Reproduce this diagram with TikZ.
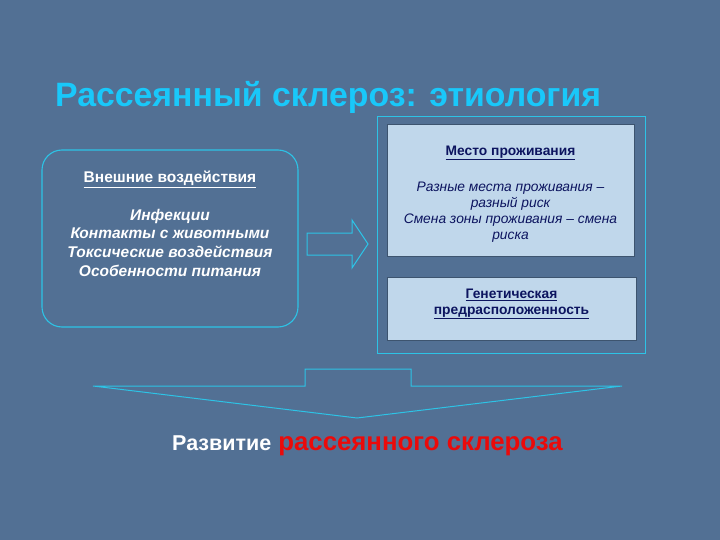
\documentclass[tikz,border=0pt]{standalone}
\usepackage{fontspec}
\setmainfont{Liberation Sans}
\usetikzlibrary{positioning}
\definecolor{SlideBlue}{RGB}{82,112,148}
\definecolor{TitleCyan}{RGB}{25,200,250}
\definecolor{EdgeCyan}{RGB}{45,195,230}
\definecolor{PaleBox}{RGB}{192,215,235}
\definecolor{InkNavy}{RGB}{12,20,95}
\definecolor{RiskRed}{RGB}{235,10,10}
\tikzset{
	factbox/.style={
		draw=EdgeCyan,line width=1.1pt,rounded corners=20pt,
		minimum width=256pt,minimum height=177pt},
	infobox/.style={
		fill=PaleBox,draw=SlideBlue!75!black,line width=1pt,
		align=center,text=InkNavy,inner sep=0pt},
	factlist/.style={
		align=center,text=white,
		font=\bfseries\itshape\fontsize{15.5}{18.7}\selectfont}
}
\def\hdr#1{\underline{\textbf{\upshape #1}}}
\def\riskf#1{\textcolor{RiskRed}{#1}}

\begin{document}
\begin{tikzpicture}[x=1pt,y=-1pt]
			\fill[SlideBlue] (0,0) rectangle (720,540);
			\useasboundingbox (0,0) rectangle (720,540);
			\node[anchor=base west,inner sep=0pt,text=TitleCyan,font=\bfseries\fontsize{33.8}{40}\selectfont] (title) at (55,107) {Рассеянный склероз: этиология};
			% left: external factors
			\node[factbox] (ext) at (170,238.5) {};
			\node[factlist,below=18pt of ext.north] (extlist) {{\fontsize{15.5}{18}\selectfont\hdr{Внешние воздействия}}\\[19pt]
				Инфекции\\ Контакты с животными\\ Токсические воздействия\\ Особенности питания};
			% right: place and genes
			\node[draw=EdgeCyan,line width=0.8pt,minimum width=268pt,minimum height=237pt] (frame) at (511,234.5) {};
			\node[infobox,minimum width=247pt,minimum height=131pt,font=\itshape\fontsize{13.8}{16.2}\selectfont] (place) at (510.5,190.5)
				{\rule{0pt}{17pt}\fontsize{13.8}{14}\selectfont\hdr{Место проживания}\\[20pt]
				Разные места проживания –\\ разный риск\\ Смена зоны проживания – смена\\ риска};
			\node[infobox,minimum width=249pt,minimum height=63pt,text depth=14pt,font=\bfseries\fontsize{13.8}{16}\selectfont] (genes) at (511.5,308.5)
				{\hdr{Генетическая}\\ \hdr{предрасположенность}};
			% arrows
			\draw[EdgeCyan,line width=1pt] (307,233)--(352,233)--(352,220)--(368,244)--(352,268)--(352,255)--(307,255)--cycle;
			\draw[EdgeCyan,line width=1pt] (93,386)--(305,386)--(305,369)--(411,369)--(411,386)--(622,386)--(357,418)--cycle;
			\node[anchor=base west,inner sep=0pt,font=\bfseries] (result) at (172,450)
				{\textcolor{white}{\fontsize{21.5}{24}\selectfont Развитие}\hspace{7pt}\riskf{\fontsize{25.8}{30}\selectfont рассеянного склероза}};
\end{tikzpicture}
\end{document}
